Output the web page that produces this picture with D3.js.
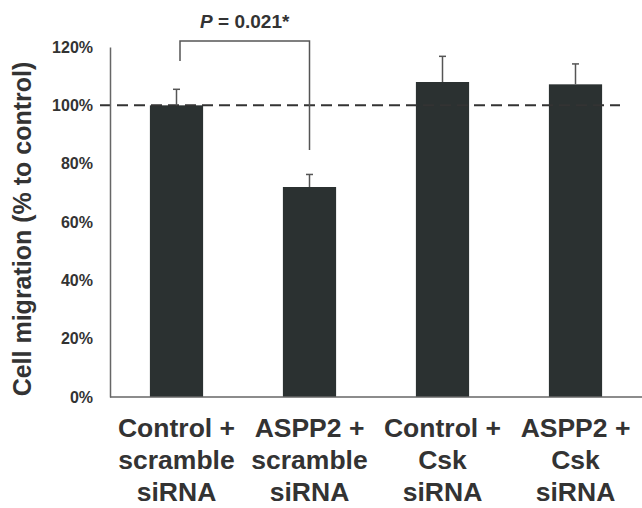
<!DOCTYPE html>
<html>
<head>
<meta charset="utf-8">
<script src="https://cdn.jsdelivr.net/npm/d3@7"></script>
<style>
  body { margin: 0; background: #fff; }
  text { font-family: "Liberation Sans", Arial, sans-serif; font-weight: bold; fill: #333; }
</style>
</head>
<body>
<svg id="chart" width="642" height="508"></svg>
<script>
var categories = [
  ["Control +", "scramble", "siRNA"],
  ["ASPP2 +", "scramble", "siRNA"],
  ["Control +", "Csk", "siRNA"],
  ["ASPP2 +", "Csk", "siRNA"]
];
var values = [100, 72, 108, 107.2];
var errors = [5.5, 4.3, 8.8, 7.0];
var yTicks = [0, 20, 40, 60, 80, 100, 120];
var pLabel = "= 0.021*";

var svg = d3.select("#chart");

var x = d3.scaleBand()
  .domain(d3.range(categories.length))
  .range([110, 642])
  .paddingInner(0.6)
  .paddingOuter(0.3);

var y = d3.scaleLinear()
  .domain([0, 120])
  .range([397, 47]);

// bars
svg.selectAll("rect.bar")
  .data(values)
  .enter().append("rect")
  .attr("class", "bar")
  .attr("x", function(d, i){ return x(i); })
  .attr("y", function(d){ return y(d); })
  .attr("width", x.bandwidth())
  .attr("height", function(d){ return y(0) - y(d); })
  .attr("fill", "#2b3131");

// reference line at 100%
svg.append("line")
  .attr("x1", 100)
  .attr("x2", 620)
  .attr("y1", y(100))
  .attr("y2", y(100))
  .attr("stroke", "#333")
  .attr("stroke-width", 2)
  .attr("stroke-dasharray", "11,6");

// error bars
var err = svg.selectAll("g.err")
  .data(values)
  .enter().append("g")
  .attr("class", "err")
  .attr("transform", function(d, i){ return "translate(" + (x(i) + x.bandwidth() / 2) + ")"; });

err.append("line")
  .attr("y1", function(d){ return y(d); })
  .attr("y2", function(d, i){ return y(d + errors[i]); })
  .attr("stroke", "#555")
  .attr("stroke-width", 1.5);

err.append("line")
  .attr("x1", -3.5)
  .attr("x2", 3.5)
  .attr("y1", function(d, i){ return y(d + errors[i]); })
  .attr("y2", function(d, i){ return y(d + errors[i]); })
  .attr("stroke", "#555")
  .attr("stroke-width", 1.5);

// axes
var yAxis = d3.axisLeft(y)
  .tickValues(yTicks)
  .tickSize(0)
  .tickPadding(17)
  .tickFormat(function(d){ return d + "%"; });

var gy = svg.append("g")
  .attr("transform", "translate(110,0)")
  .call(yAxis);
gy.select(".domain").attr("stroke", "#666").attr("stroke-width", 1.5);
gy.selectAll("text")
  .attr("font-size", 16)
  .attr("font-family", null)
  .attr("fill", "#333");

svg.append("line")
  .attr("x1", 110)
  .attr("x2", 642)
  .attr("y1", y(0))
  .attr("y2", y(0))
  .attr("stroke", "#666")
  .attr("stroke-width", 1.5);

// category labels
var labels = svg.selectAll("text.cat")
  .data(categories)
  .enter().append("text")
  .attr("class", "cat")
  .attr("text-anchor", "middle")
  .attr("font-size", 26.5)
  .attr("transform", function(d, i){ return "translate(" + (x(i) + x.bandwidth() / 2) + ",437)"; });

labels.selectAll("tspan")
  .data(function(d){ return d; })
  .enter().append("tspan")
  .attr("x", 0)
  .attr("y", function(d, i){ return i * 32; })
  .text(function(d){ return d; });

// y axis title
svg.append("text")
  .attr("transform", "translate(31,229) rotate(-90)")
  .attr("text-anchor", "middle")
  .attr("font-size", 25)
  .text("Cell migration (% to control)");

// significance bracket
var bx1 = x(0) + x.bandwidth() / 2 + 3.5,
    bx2 = x(1) + x.bandwidth() / 2;

svg.append("path")
  .attr("d", d3.line()([[bx1, 61], [bx1, 41], [bx2, 41], [bx2, 150]]))
  .attr("fill", "none")
  .attr("stroke", "#555")
  .attr("stroke-width", 1.5);

var pt = svg.append("text")
  .attr("x", (bx1 + bx2) / 2)
  .attr("y", 28)
  .attr("text-anchor", "middle")
  .attr("font-size", 19);
pt.append("tspan").attr("font-style", "italic").text("P");
pt.append("tspan").text(" " + pLabel);
</script>
</body>
</html>
